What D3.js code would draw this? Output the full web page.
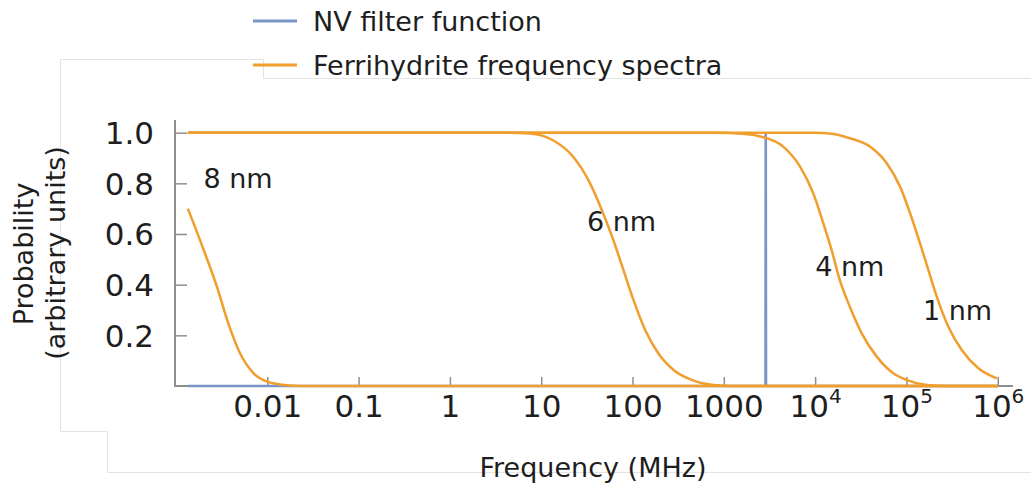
<!DOCTYPE html>
<html>
<head>
<meta charset="utf-8">
<script src="https://cdn.jsdelivr.net/npm/d3@7"></script>
<style>
  html, body { margin: 0; padding: 0; background: #fff; }
  svg { display: block; }
  text { font-family: "DejaVu Sans", Verdana, sans-serif; fill: #1e1e1e; }
</style>
</head>
<body>
<svg id="chart" width="1031" height="487"></svg>
<script>
// ---- data (frequency as log10(MHz), probability) ----
const seriesNames = ["NV filter function", "Ferrihydrite frequency spectra"];
const curveLabels = ["8 nm", "6 nm", "4 nm", "1 nm"];

const nvLogF = [-2.87, 3.456, 3.459, 3.462, 6.0];
const nvP    = [0,     0,     1.0,   0,     0];

const nm8LogF = [-2.87, -2.70, -2.55, -2.43, -2.30, -2.15, -2.00, -1.82, -1.60, 6.0];
const nm8P    = [0.70,  0.54,  0.39,  0.25,  0.13,  0.05,  0.017, 0.004, 0,     0];

const nm6LogF = [-2.87, 0.60, 0.88, 1.13, 1.35, 1.535, 1.68, 1.79, 1.90, 2.01, 2.14, 2.28, 2.45, 2.67, 2.89, 3.10, 6.0];
const nm6P    = [1.0,   1.0,  0.997,0.97, 0.905,0.80,  0.68, 0.576,0.458,0.34, 0.22, 0.13, 0.063,0.021,0.004,0,    0];

const nm4LogF = [-2.87, 2.90, 3.20, 3.40, 3.65, 3.835, 3.98, 4.09, 4.18, 4.27, 4.38, 4.51, 4.675, 4.856, 5.00, 5.22, 5.45, 6.0];
const nm4P    = [1.0,   1.0,  0.996,0.985,0.945,0.866, 0.76, 0.642,0.537,0.418,0.313,0.208,0.116, 0.05,  0.024,0.004,0,    0];

const nm1LogF = [-2.87, 4.00, 4.20, 4.38, 4.60, 4.784, 4.93, 5.04, 5.149, 5.24, 5.332, 5.459, 5.606, 5.788, 5.99];
const nm1P    = [1.0,   1.0,  0.995,0.978,0.945,0.879, 0.787,0.682,0.563, 0.458,0.353, 0.234, 0.142, 0.07,  0.03];

const xTickValues = [0.01, 0.1, 1, 10, 100, 1000, 1e4, 1e5, 1e6];
const xTickLabels = ["0.01", "0.1", "1", "10", "100", "1000", "10|4", "10|5", "10|6"];
const yTickValues = [0.2, 0.4, 0.6, 0.8, 1.0];
const yTickLabels = ["0.2", "0.4", "0.6", "0.8", "1.0"];

// label anchor points (log10 MHz, probability)
const labelLogF = [-2.70, 1.50, 4.00, 5.18];
const labelP    = [0.78, 0.61, 0.435, 0.26];

// ---- drawing ----
const svg = d3.select("#chart");
const orange = "#F09E2E";
const blue = "#7C95C9";
const axisGray = "#8e8e8e";

// faint page frame lines
svg.append("path")
  .attr("d", "M60.5,431.5V59.5H263.5V78.5H1031M60.5,431.5H107.5V472.5H1031")
  .attr("fill", "none").attr("stroke", "#e4e4e4").attr("stroke-width", 1);

const x = d3.scaleLog().domain([1e-3, Math.pow(10, 6.167)]).range([176, 1013]);
const y = d3.scaleLinear().domain([0, 1.05]).range([386, 120]);

const toPts = (lf, p) => lf.map((v, i) => [Math.pow(10, v), p[i]]);

const line = d3.line().x(d => x(d[0])).y(d => y(d[1])).curve(d3.curveMonotoneX);
const lineLin = d3.line().x(d => x(d[0])).y(d => y(d[1]));

// axes
const gx = svg.append("g").attr("transform", "translate(0,386)")
  .call(d3.axisBottom(x).tickValues(xTickValues).tickSize(-9).tickSizeOuter(0));
const gy = svg.append("g").attr("transform", "translate(175,0)")
  .call(d3.axisLeft(y).tickValues(yTickValues).tickSize(-12).tickSizeOuter(0));

[gx, gy].forEach(g => {
  g.select(".domain").attr("stroke", axisGray).attr("stroke-width", 2);
  g.selectAll(".tick line").attr("stroke", axisGray).attr("stroke-width", 1.5);
  g.selectAll("text").style("font-family", "'DejaVu Sans', Verdana, sans-serif")
    .style("font-size", "31px").attr("fill", "#1e1e1e");
});

gx.selectAll(".tick text").each(function(d, i) {
  const t = d3.select(this);
  t.text(null).attr("y", 31).attr("dy", null);
  const parts = xTickLabels[i].split("|");
  t.append("tspan").text(parts[0]);
  if (parts[1]) {
    t.append("tspan").attr("dy", -14).style("font-size", "20px").text(parts[1]);
  }
});
gx.select(".domain").attr("d", "M175,0H1013");

gy.selectAll(".tick text").each(function(d, i) {
  d3.select(this).text(yTickLabels[i]).attr("x", -21).attr("dy", "0.35em");
});
gy.select(".domain").attr("d", "M0,120V387");

// series
svg.append("path").datum(toPts(nvLogF, nvP)).attr("d", lineLin)
  .attr("fill", "none").attr("stroke", blue).attr("stroke-width", 2.6);

[[nm8LogF, nm8P], [nm6LogF, nm6P], [nm4LogF, nm4P], [nm1LogF, nm1P]].forEach(([lf, p]) => {
  svg.append("path").datum(toPts(lf, p)).attr("d", line)
    .attr("fill", "none").attr("stroke", orange).attr("stroke-width", 2.5);
});

// curve labels
curveLabels.forEach((lab, i) => {
  svg.append("text").attr("x", x(Math.pow(10, labelLogF[i]))).attr("y", y(labelP[i]))
    .style("font-size", "27px").text(lab);
});

// axis titles
svg.append("text").attr("x", 593).attr("y", 477).attr("text-anchor", "middle")
  .style("font-size", "27px").text("Frequency (MHz)");
svg.append("text").attr("transform", "translate(33,254) rotate(-90)").attr("text-anchor", "middle")
  .style("font-size", "27px").text("Probability");
svg.append("text").attr("transform", "translate(65,253) rotate(-90)").attr("text-anchor", "middle")
  .style("font-size", "27px").text("(arbitrary units)");

// legend
const legColors = [blue, orange];
const legY = [21, 65];
seriesNames.forEach((nm, i) => {
  svg.append("line").attr("x1", 253).attr("x2", 297).attr("y1", legY[i]).attr("y2", legY[i])
    .attr("stroke", legColors[i]).attr("stroke-width", 3);
  svg.append("text").attr("x", 313).attr("y", legY[i]).attr("dy", "0.36em")
    .style("font-size", "27px").text(nm);
});
</script>
</body>
</html>
